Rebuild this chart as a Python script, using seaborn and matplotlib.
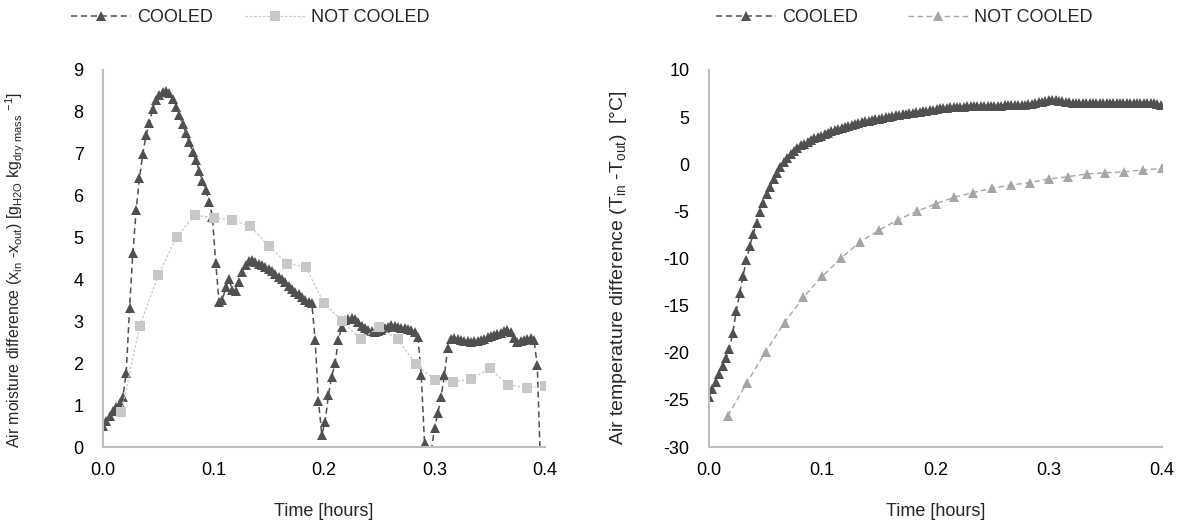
import numpy as np
import matplotlib
matplotlib.use("Agg")
import matplotlib.pyplot as plt
import seaborn as sns

# ---------------- data ----------------
# COOLED series sampled every 0.003 h
moist_cooled = [
    0.5, 0.62, 0.74, 0.85, 0.95, 1.05, 1.2, 1.76, 3.31, 4.62,
    5.66, 6.41, 7.0, 7.45, 7.73, 8.08, 8.28, 8.4, 8.47, 8.5,
    8.45, 8.3, 8.12, 7.92, 7.7, 7.49, 7.29, 7.05, 6.85, 6.6,
    6.35, 6.13, 5.85, 5.5, 4.4, 3.47, 3.5, 3.82, 4.0, 3.75,
    3.72, 3.95, 4.18, 4.35, 4.45, 4.46, 4.42, 4.38, 4.34, 4.3,
    4.25, 4.2, 4.14, 4.07, 4.01, 3.93, 3.85, 3.78, 3.71, 3.65,
    3.58, 3.52, 3.47, 3.43, 2.55, 1.1, 0.29, 0.6, 1.24, 1.68,
    2.0, 2.55, 2.87, 3.03, 3.05, 3.07, 3.06, 2.98, 2.88, 2.83,
    2.8, 2.77, 2.75, 2.76, 2.79, 2.83, 2.87, 2.91, 2.89, 2.86,
    2.84, 2.83, 2.81, 2.79, 2.75, 2.62, 1.72, 0.09, -0.5, -0.1,
    0.45, 0.8, 1.2, 1.72, 2.36, 2.59, 2.6, 2.58, 2.56, 2.54,
    2.52, 2.51, 2.52, 2.54, 2.56, 2.59, 2.62, 2.64, 2.67, 2.7,
    2.73, 2.76, 2.79, 2.75, 2.6, 2.51, 2.52, 2.55, 2.58, 2.6,
    2.55, 1.96, -0.5,
]
temp_cooled = [
    -24.66, -23.8, -23.07, -22.25, -21.4, -20.6, -19.6, -17.9, -15.6, -13.7,
    -11.86, -10.2, -8.67, -7.4, -6.2, -5.1, -4.1, -3.2, -2.4, -1.6,
    -0.9, -0.3, 0.25, 0.7, 1.1, 1.45, 1.75, 2.0, 2.2, 2.4,
    2.58, 2.75, 2.9, 3.05, 3.2, 3.35, 3.48, 3.6, 3.72, 3.84,
    3.95, 4.05, 4.15, 4.25, 4.35, 4.45, 4.54, 4.62, 4.7, 4.78,
    4.85, 4.92, 4.99, 5.06, 5.12, 5.18, 5.24, 5.3, 5.36, 5.42,
    5.48, 5.53, 5.58, 5.63, 5.68, 5.73, 5.8, 5.87, 5.93, 5.98,
    6.02, 6.05, 6.08, 6.1, 6.11, 6.12, 6.13, 6.14, 6.15, 6.16,
    6.17, 6.18, 6.19, 6.2, 6.21, 6.22, 6.23, 6.24, 6.25, 6.26,
    6.27, 6.28, 6.3, 6.32, 6.35, 6.4, 6.48, 6.56, 6.65, 6.72,
    6.78, 6.8, 6.78, 6.72, 6.66, 6.6, 6.56, 6.54, 6.53, 6.52,
    6.52, 6.51, 6.5, 6.5, 6.51, 6.52, 6.53, 6.52, 6.51, 6.5,
    6.5, 6.5, 6.51, 6.52, 6.52, 6.51, 6.5, 6.5, 6.49, 6.48,
    6.47, 6.45, 6.4, 6.3,
]
# NOT COOLED series sampled every minute
notcooled_minutes = list(range(1, 25))
moist_notcooled = [
    0.84, 2.9, 4.1, 5.02, 5.54, 5.47, 5.42, 5.27, 4.8, 4.38,
    4.3, 3.43, 3.0, 2.57, 2.86, 2.57, 1.97, 1.6, 1.56, 1.62,
    1.88, 1.48, 1.42, 1.46,
]
temp_notcooled = [
    -26.7, -23.2, -19.9, -16.8, -14.1, -11.9, -9.95, -8.25, -7.0, -5.9,
    -5.0, -4.2, -3.5, -3.0, -2.55, -2.2, -1.95, -1.56, -1.32, -1.04,
    -0.9, -0.8, -0.6, -0.45,
]
labels = ["COOLED", "NOT COOLED"]
left_yticks = list(range(0, 10))
right_yticks = list(range(-30, 11, 5))
xticks = [0.0, 0.1, 0.2, 0.3, 0.4]

t_cooled_m = np.arange(len(moist_cooled)) * 0.003
t_cooled_t = np.arange(len(temp_cooled)) * 0.003
t_notcooled = np.array(notcooled_minutes) / 60.0

# ---------------- style ----------------
sns.set_style("white")
plt.rcParams["font.family"] = ["Liberation Sans Narrow", "Liberation Sans", "DejaVu Sans"]
plt.rcParams["mathtext.default"] = "regular"

DARK = "#505050"
LIGHT_SQ = "#C8C8C8"
LIGHT_TRI = "#A6A6A6"
AXC = "#BFBFBF"

fig = plt.figure(figsize=(11.85, 5.26), dpi=100)
W, H = 1185, 526
ax1 = fig.add_axes([103 / W, 79 / H, 442 / W, 377 / H])
ax2 = fig.add_axes([709 / W, 79 / H, 453 / W, 377 / H])

dash = (0, (4, 2.5))
sns.lineplot(x=t_cooled_m, y=moist_cooled, ax=ax1, color=DARK, marker="^",
             markersize=7, markeredgewidth=0, linestyle=dash, linewidth=1.1,
             estimator=None, sort=False, legend=False)
sns.lineplot(x=t_notcooled, y=moist_notcooled, ax=ax1, color=LIGHT_SQ, marker="s",
             markersize=7, markeredgewidth=0, linestyle=(0, (2, 1.5)), linewidth=0.9,
             estimator=None, sort=False, legend=False)
sns.lineplot(x=t_cooled_t, y=temp_cooled, ax=ax2, color=DARK, marker="^",
             markersize=7, markeredgewidth=0, linestyle=dash, linewidth=1.1,
             estimator=None, sort=False, legend=False)
sns.lineplot(x=t_notcooled, y=temp_notcooled, ax=ax2, color=LIGHT_TRI, marker="^",
             markersize=7, markeredgewidth=0, linestyle=dash, linewidth=1.0,
             estimator=None, sort=False, legend=False)

for ax, yt, ylim in [(ax1, left_yticks, (0, 9)), (ax2, right_yticks, (-30, 10))]:
    ax.set_xlim(0, 0.4)
    ax.set_ylim(*ylim)
    ax.set_xticks(xticks)
    ax.set_xticklabels([f"{v:.1f}" for v in xticks])
    ax.set_yticks(yt)
    ax.set_yticklabels([str(v) for v in yt])
    for s in ["top", "right"]:
        ax.spines[s].set_visible(False)
    for s in ["left", "bottom"]:
        ax.spines[s].set_color(AXC)
        ax.spines[s].set_linewidth(1.5)
    ax.tick_params(axis="both", length=0, labelsize=13, colors="black")
    ax.tick_params(axis="y", pad=14)
    ax.tick_params(axis="x", pad=11)
    ax.set_xlabel("Time [hours]", fontsize=13, labelpad=17)
    ax.grid(False)

ax1.set_ylabel(r"Air moisture difference (x$_{in}$ -x$_{out}$) [g$_{H2O}$ kg$_{dry\ mass}$ $^{-1}$]",
               fontsize=11.4, family=["Liberation Sans", "DejaVu Sans"])
ax1.yaxis.set_label_coords((27 - 103) / 442, (447 - 270) / 377)
ax2.set_ylabel(r"Air temperature difference (T$_{in}$ -T$_{out}$)  [°C]",
               fontsize=14, family=["Liberation Sans", "DejaVu Sans"])
ax2.yaxis.set_label_coords((629 - 709) / 453, (447 - 268) / 377)

fs = 13
px_per_fs = fs * 100 / 72
for ax, cx, cs in [(ax1, 250, 32), (ax2, 904, 50)]:
    ax.legend(ax.get_lines()[:2], labels, loc="center", ncol=2, frameon=False,
              bbox_to_anchor=(cx / W, 1 - 18 / H), bbox_transform=fig.transFigure,
              handlelength=60 / px_per_fs, numpoints=1, columnspacing=cs / px_per_fs,
              handletextpad=6 / px_per_fs, fontsize=fs)

fig.savefig("out.png", dpi=100)
